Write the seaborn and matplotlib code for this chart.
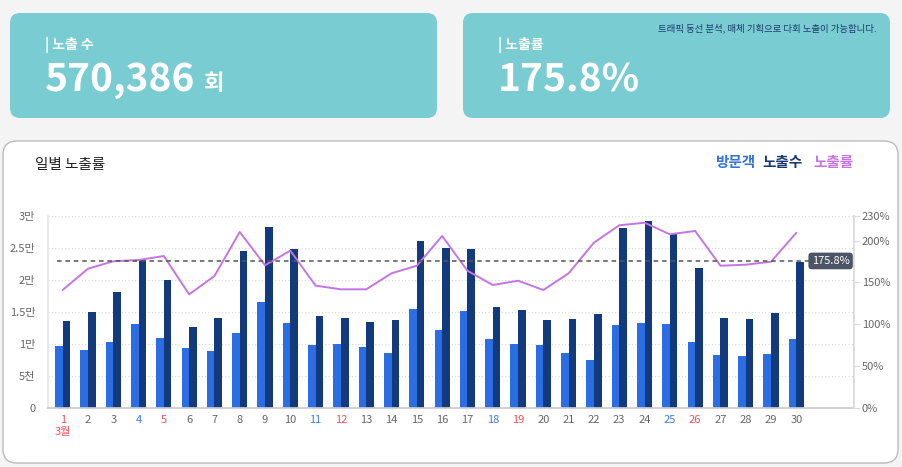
import numpy as np
import pandas as pd
import matplotlib
matplotlib.use("Agg")
import matplotlib.pyplot as plt
import seaborn as sns
from matplotlib.patches import FancyBboxPatch

# ---------------- data ----------------
days = list(range(1, 31))
visitors = [9640, 8970, 10310, 13030, 10940, 9280, 8860, 11630, 16560, 13190,
            9750, 9950, 9480, 8590, 15380, 12140, 15160, 10730, 10000, 9750,
            8590, 7450, 12920, 13190, 13030, 10270, 8230, 8130, 8440, 10780]
exposures = [13550, 14910, 18130, 23280, 19910, 12610, 13970, 24480, 28190, 24840,
             14280, 14060, 13440, 13750, 26090, 24910, 24840, 15730, 15220, 13750,
             13860, 14690, 28080, 29220, 27090, 21780, 13970, 13860, 14800, 22720]
rates = [141.0, 166.5, 175.4, 176.9, 181.7, 135.8, 157.8, 210.5, 170.6, 188.1,
         146.2, 141.8, 141.8, 161.0, 170.1, 205.7, 164.1, 147.0, 152.1, 141.0,
         161.0, 197.7, 218.5, 221.6, 207.7, 211.7, 170.1, 171.3, 174.9, 209.6]
total_exposure = 570386
avg_rate = 175.8
red_days = [1, 5, 12, 19, 26]
blue_days = [4, 11, 18, 25]
left_ticks = [0, 5000, 10000, 15000, 20000, 25000, 30000]
left_labels = ["0", "5천", "1만", "1.5만", "2만", "2.5만", "3만"]
right_ticks = [0, 50, 100, 150, 200, 230]
series_names = ["방문객", "노출수"]

# ---------------- style ----------------
sns.set_theme(style="white")
plt.rcParams["font.family"] = ["Noto Sans CJK KR", "DejaVu Sans"]

C_LIGHT = "#2B6EE4"
C_DARK = "#133A7C"
C_LINE = "#C475E3"
C_TEAL = "#79CCD1"

W, H = 902, 467
fig = plt.figure(figsize=(W / 100, H / 100), dpi=100)
fig.patch.set_facecolor("#F4F4F4")

# background axes in pixel coordinates
bg = fig.add_axes([0, 0, 1, 1], zorder=0)
bg.set_xlim(0, W)
bg.set_ylim(H, 0)
bg.axis("off")

def card(x0, y0, x1, y1, fc, ec="none", r=10, lw=0):
    p = FancyBboxPatch((x0, y0), x1 - x0, y1 - y0,
                       boxstyle=f"round,pad=0,rounding_size={r}",
                       fc=fc, ec=ec, lw=lw)
    bg.add_patch(p)

card(10, 13, 437, 118, C_TEAL)
card(463, 13, 890, 118, C_TEAL)
card(3, 141, 898, 463, "white", ec="#BBBBBB", r=14, lw=1.0)

# card texts
bg.text(45, 45, "| 노출 수", color="white", fontsize=10, fontweight="bold", va="center")
num = bg.text(45, 91, f"{total_exposure:,}", color="white", fontsize=28,
              fontweight="bold", va="baseline")
bg.text(498, 45, "| 노출률", color="white", fontsize=10, fontweight="bold", va="center")
bg.text(498, 91, f"{avg_rate}%", color="white", fontsize=28, fontweight="bold", va="baseline")
bg.text(877, 28, "트래픽 동선 분석, 매체 기획으로 다회 노출이 가능합니다.",
        color="#1E3A6E", fontsize=6.8, ha="right", va="center")

fig.canvas.draw()
bb = num.get_window_extent()
bg.text(bb.x1 + 9, 90, "회", color="white", fontsize=16, fontweight="bold", va="baseline")

# chart title and legend
bg.text(35, 165, "일별 노출률", color="#222222", fontsize=10.5, va="center")
bg.text(715, 162, "방문객", color="#3172DD", fontsize=10.5, fontweight="bold", va="center")
bg.text(762, 162, "노출수", color="#1B3A74", fontsize=10.5, fontweight="bold", va="center")
bg.text(813, 162, "노출률", color=C_LINE, fontsize=10.5, fontweight="bold", va="center")

# ---------------- chart ----------------
ax_l, ax_r, ax_t, ax_b = 48, 854, 215.7, 407.7
ax = fig.add_axes([ax_l / W, (H - ax_b) / H, (ax_r - ax_l) / W, (ax_b - ax_t) / H], zorder=2)
ax.patch.set_alpha(0)

day_labels = [str(d) for d in days]
df = pd.DataFrame({
    "day": day_labels * 2,
    "value": visitors + exposures,
    "series": [series_names[0]] * len(days) + [series_names[1]] * len(days),
})
sns.barplot(data=df, x="day", y="value", hue="series", order=day_labels,
            hue_order=series_names, palette=[C_LIGHT, C_DARK], width=0.6,
            saturation=1, legend=False, ax=ax, edgecolor="none")

ax.set_ylim(0, 30000)
ax.set_yticks(left_ticks)
ax.set_yticklabels(left_labels)
ax.set_xlabel("")
ax.set_ylabel("")
ax.yaxis.grid(True, linestyle=(0, (1, 2)), color="#D8D8D8", lw=0.8)
ax.set_axisbelow(True)
ax.tick_params(axis="y", length=0, pad=9, labelsize=8, labelcolor="#666666")
ax.tick_params(axis="x", length=0, pad=5, labelsize=8)

xt = []
for d in days:
    xt.append("1\n3월" if d == 1 else str(d))
ax.set_xticks(range(len(days)))
ax.set_xticklabels(xt)
for d, lab in zip(days, ax.get_xticklabels()):
    if d in red_days:
        lab.set_color("#F0505A")
    elif d in blue_days:
        lab.set_color("#3B7BE8")
    else:
        lab.set_color("#666666")
    lab.set_linespacing(1.3)

ax.spines["top"].set_visible(False)
ax.spines["bottom"].set_color("#CCCCCC")
ax.spines["left"].set_color("#E6E6E6")
ax.spines["right"].set_color("#DDDDDD")

ax2 = ax.twinx()
ax2.set_zorder(3)
ax2.patch.set_alpha(0)
sns.lineplot(x=np.arange(len(days)), y=rates, color=C_LINE, lw=1.4, ax=ax2)
ax2.set_ylim(0, 230)
ax2.set_yticks(right_ticks)
ax2.set_yticklabels([f"{t}%" for t in right_ticks])
ax2.tick_params(axis="y", length=4, width=0.8, color="#DDDDDD", pad=1.5,
                labelsize=8, labelcolor="#666666")
for s in ["top", "left", "bottom"]:
    ax2.spines[s].set_visible(False)
ax2.spines["right"].set_color("#DDDDDD")

ax2.axhline(avg_rate, xmin=0.011, xmax=0.945, color="#555555", lw=1.1, ls=(0, (3, 2.5)))
ax2.text(0.971, avg_rate, f"{avg_rate}%", transform=ax2.get_yaxis_transform(),
         ha="center", va="center", fontsize=8, color="white",
         bbox=dict(boxstyle="round,pad=0.3,rounding_size=0.3", fc="#4B5566", ec="none"))

ax.set_xlim(-0.58, 31.28)
ax2.set_xlim(-0.58, 31.28)

fig.savefig("out.png", dpi=100, facecolor=fig.get_facecolor())
